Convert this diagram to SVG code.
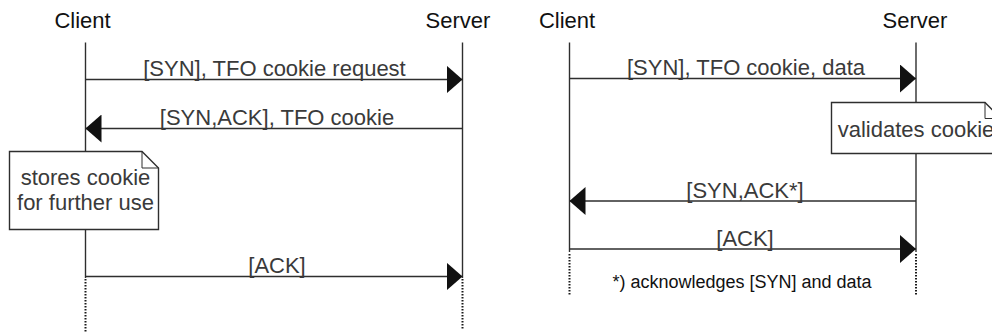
<svg xmlns="http://www.w3.org/2000/svg" width="992" height="332" viewBox="0 0 992 332">
  <style>
    .title { font-family: "Liberation Sans", Arial, sans-serif; font-size: 22px; fill: #111; text-anchor: middle; }
    .label { font-family: "Liberation Sans", Arial, sans-serif; font-size: 22px; fill: #3a3a3a; text-anchor: middle; }
    .foot { font-family: "Liberation Sans", Arial, sans-serif; font-size: 18px; fill: #111; text-anchor: middle; }
    .life { stroke: #2e2e2e; stroke-width: 1.4; fill: none; }
    .dots { stroke: #1a1a1a; stroke-width: 2; fill: none; stroke-dasharray: 1.5 1.5; }
    .msg { stroke: #2e2e2e; stroke-width: 1.4; fill: none; marker-end: url(#head); }
    .note { fill: #fff; stroke: #2e2e2e; stroke-width: 1.4; }
    .fold { fill: none; stroke: #2e2e2e; stroke-width: 1; }
  </style>
  <defs>
    <marker id="head" viewBox="0 0 16 28" refX="16" refY="14" markerWidth="16" markerHeight="28" markerUnits="userSpaceOnUse" orient="auto">
      <path d="M0,0 L16,14 L0,28 Z" fill="#111"/>
    </marker>
  </defs>
  <rect width="992" height="332" fill="#fff"/>

  <!-- Cookie request exchange -->
  <g id="client-a">
    <text class="title" x="82.5" y="27.5">Client</text>
    <line class="life" x1="85.5" y1="42.5" x2="85.5" y2="278"/>
    <line class="dots" x1="85.5" y1="279" x2="85.5" y2="332"/>
  </g>
  <g id="server-a">
    <text class="title" x="458" y="27.5">Server</text>
    <line class="life" x1="462.5" y1="42.5" x2="462.5" y2="278"/>
    <line class="dots" x1="462.5" y1="279" x2="462.5" y2="329"/>
  </g>

  <!-- Fast open exchange -->
  <g id="client-b">
    <text class="title" x="567" y="27.5">Client</text>
    <line class="life" x1="569.5" y1="42.5" x2="569.5" y2="252"/>
    <line class="dots" x1="569.5" y1="254" x2="569.5" y2="296"/>
  </g>
  <g id="server-b">
    <text class="title" x="915" y="27.5">Server</text>
    <line class="life" x1="916" y1="42.5" x2="916" y2="252"/>
    <line class="dots" x1="916" y1="254" x2="916" y2="296"/>
  </g>

  <g id="connectors">
    <line class="msg" x1="85.5" y1="79.5" x2="462.5" y2="79.5"/>
    <text class="label" x="274.5" y="76">[SYN], TFO cookie request</text>

    <line class="msg" x1="462.5" y1="128.5" x2="85.5" y2="128.5"/>
    <text class="label" x="277" y="125">[SYN,ACK], TFO cookie</text>

    <line class="msg" x1="85.5" y1="276.5" x2="462.5" y2="276.5"/>
    <text class="label" x="277" y="273">[ACK]</text>

    <line class="msg" x1="569.5" y1="78.5" x2="916" y2="78.5"/>
    <text class="label" x="746" y="75">[SYN], TFO cookie, data</text>

    <line class="msg" x1="916" y1="201" x2="569.5" y2="201"/>
    <text class="label" x="745" y="197.5">[SYN,ACK*]</text>

    <line class="msg" x1="569.5" y1="249" x2="916" y2="249"/>
    <text class="label" x="745" y="245.5">[ACK]</text>
  </g>

  <g id="note-stores">
    <path class="note" d="M9.5,151.5 H142 L158.5,168 V229.5 H9.5 Z"/>
    <path class="fold" d="M142,151.5 V168 H158.5"/>
    <text class="label" x="85.5" y="185">stores cookie</text>
    <text class="label" x="85.5" y="210">for further use</text>
  </g>

  <g id="note-validates">
    <path class="note" d="M831.5,102.5 H985 L1001,118.5 V153.5 H831.5 Z"/>
    <path class="fold" d="M985,102.5 V118.5 H1001"/>
    <text class="label" x="916" y="137">validates cookie</text>
  </g>

  <g id="footnote">
    <text class="foot" x="742" y="287.5">*) acknowledges [SYN] and data</text>
  </g>
</svg>
